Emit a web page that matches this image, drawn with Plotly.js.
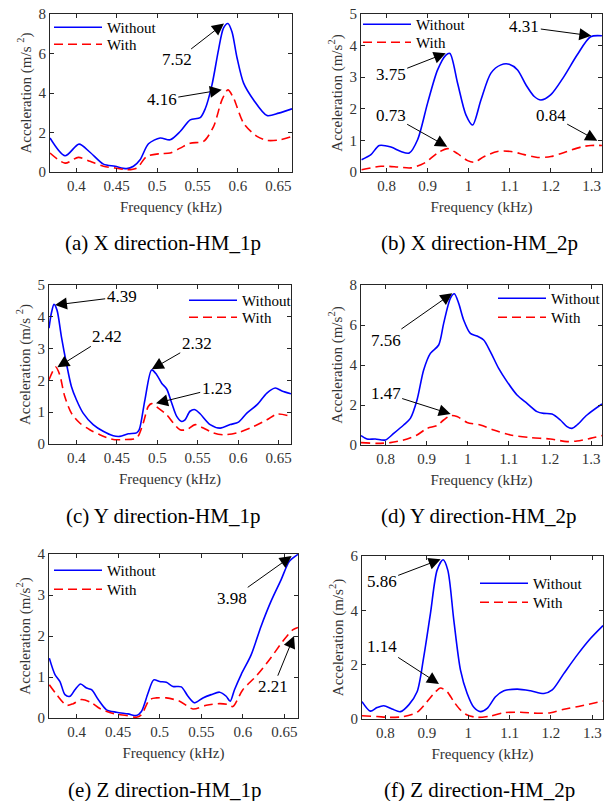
<!DOCTYPE html>
<html>
<head>
<meta charset="utf-8">
<script src="https://cdn.plot.ly/plotly-3.0.1.min.js"></script>
<style>
html,body{margin:0;padding:0;background:#fff}
#chart{width:608px;height:801px}
</style>
</head>
<body>
<div id="chart"></div>
<script>
// ---------------- data ----------------
const seriesNames = ['Without', 'With'];
const captions = ['(a) X direction-HM_1p', '(b) X direction-HM_2p', '(c) Y direction-HM_1p',
                  '(d) Y direction-HM_2p', '(e) Z direction-HM_1p', '(f) Z direction-HM_2p'];
const xTitle = 'Frequency (kHz)';
const yTitleSpaced = 'Acceleration (m/s <sup>2</sup>)';
const yTitle = 'Acceleration (m/s<sup>2</sup>)';
const xTicks1p = [0.4, 0.45, 0.5, 0.55, 0.6, 0.65];
const xTickText1p = ['0.4', '0.45', '0.5', '0.55', '0.6', '0.65'];
const xTicks2p = [0.8, 0.9, 1.0, 1.1, 1.2, 1.3];
const xTickText2p = ['0.8', '0.9', '1', '1.1', '1.2', '1.3'];

// (a) X direction HM_1p
const aFreqWithout = [0.3674,0.386,0.4033,0.4169,0.4335,0.4479,0.4624,0.4707,0.4789,0.4893,0.5037,0.5161,0.5285,0.5409,0.5533,0.5595,0.5678,0.576,0.5822,0.5876,0.5926,0.5988,0.607,0.6194,0.636,0.6504,0.6669];
const aWithout = [1.72,0.82,1.41,1.0,0.4,0.29,0.17,0.29,0.62,1.43,1.72,1.63,2.05,2.64,2.75,3.2,4.4,6.2,7.3,7.52,7.1,5.8,4.5,3.65,2.86,2.98,3.2];
const aFreqWith = [0.3674,0.386,0.4025,0.4169,0.4335,0.4479,0.4624,0.4748,0.4872,0.5037,0.5161,0.5285,0.5409,0.5574,0.5698,0.5802,0.5876,0.5946,0.607,0.6236,0.636,0.6525,0.6669];
const aWith = [0.96,0.45,0.74,0.54,0.29,0.2,0.12,0.2,0.79,0.93,0.96,1.21,1.46,1.55,2.3,3.65,4.16,3.74,2.47,1.8,1.6,1.63,1.8];
const aPeakText = ['7.52', '4.16'];
const aPeakFreq = [0.5827, 0.58];
const aPeakAcc = [7.52, 4.16];

// (b) X direction HM_2p
const bFreqWithout = [0.739,0.7618,0.7821,0.8106,0.835,0.8553,0.8756,0.9,0.9244,0.9447,0.9545,0.9732,0.9935,1.0098,1.0301,1.0545,1.0789,1.0992,1.1195,1.1398,1.1602,1.1764,1.2,1.2325,1.265,1.2976,1.3252];
const bWithout = [0.39,0.55,0.84,0.79,0.65,0.6,1.02,2.18,3.23,3.7,3.75,2.81,1.81,1.49,2.28,3.13,3.39,3.41,3.23,2.76,2.39,2.28,2.44,3.02,3.71,4.28,4.31];
const bFreqWith = [0.739,0.7862,0.8268,0.8593,0.8919,0.9244,0.9488,0.9732,0.9976,1.0138,1.0382,1.0707,1.1033,1.1358,1.1683,1.2008,1.2333,1.274,1.2984,1.3252];
const bWith = [0.07,0.18,0.16,0.13,0.28,0.6,0.74,0.58,0.36,0.31,0.49,0.65,0.65,0.55,0.46,0.49,0.62,0.79,0.84,0.84];
const bPeakText = ['4.31', '3.75', '0.73', '0.84'];
const bPeakFreq = [1.2993, 0.9442, 0.948, 1.3139];
const bPeakAcc = [4.31, 3.76, 0.8, 0.99];

// (c) Y direction HM_1p
const cFreqWithout = [0.3661,0.369,0.3723,0.376,0.3814,0.3876,0.3938,0.4,0.4083,0.4207,0.4331,0.4455,0.4537,0.464,0.4744,0.4777,0.4847,0.493,0.4992,0.5054,0.5116,0.5178,0.524,0.5302,0.5343,0.5405,0.5467,0.5529,0.5653,0.5777,0.5901,0.6004,0.6107,0.6231,0.6355,0.6459,0.6541,0.6653];
const cWithout = [3.64,4.11,4.39,4.21,3.38,2.54,1.81,1.39,0.97,0.61,0.4,0.26,0.24,0.32,0.35,0.45,1.39,2.33,2.18,1.91,1.73,1.29,0.87,0.71,0.76,1.03,1.08,0.95,0.61,0.5,0.61,0.69,0.97,1.23,1.6,1.76,1.67,1.58];
const cFreqWith = [0.3661,0.3744,0.3793,0.3855,0.3938,0.4041,0.4165,0.4289,0.4455,0.4579,0.4744,0.4826,0.4888,0.493,0.5012,0.5116,0.5198,0.5281,0.5364,0.5467,0.557,0.5694,0.5818,0.5983,0.6149,0.6355,0.6479,0.6653];
const cWith = [2.02,2.42,2.18,1.5,0.97,0.66,0.45,0.29,0.14,0.14,0.19,0.66,1.18,1.27,1.13,0.92,0.66,0.45,0.45,0.61,0.5,0.35,0.29,0.35,0.5,0.76,0.94,0.87];
const cPeakText = ['4.39', '2.42', '2.32', '1.23'];
const cPeakFreq = [0.3735, 0.3764, 0.4931, 0.4984];
const cPeakAcc = [4.37, 2.41, 2.35, 1.28];

// (d) Y direction HM_2p
const dFreqWithout = [0.7399,0.7545,0.7748,0.7992,0.8195,0.8438,0.8601,0.8763,0.8925,0.9088,0.9291,0.9412,0.9575,0.9672,0.9778,0.9899,1.0062,1.0224,1.0386,1.0549,1.0752,1.0955,1.1198,1.1442,1.1685,1.1847,1.205,1.2253,1.2416,1.2537,1.2659,1.2903,1.3268];
const dWithout = [0.47,0.3,0.3,0.25,0.58,1.0,1.33,2.25,3.75,4.58,5.0,6.08,7.33,7.56,7.08,6.25,5.58,5.45,5.25,4.67,3.83,3.17,2.5,2.08,1.67,1.58,1.55,1.25,0.92,0.83,1.0,1.5,2.05];
const dFreqWith = [0.7399,0.7789,0.8114,0.8438,0.8763,0.9006,0.925,0.9412,0.9575,0.9737,0.9981,1.0305,1.063,1.1036,1.1523,1.201,1.2416,1.2659,1.2984,1.3268];
const dWith = [0.12,0.08,0.12,0.25,0.5,0.83,0.97,1.25,1.47,1.42,1.13,1.0,0.75,0.5,0.37,0.3,0.17,0.2,0.33,0.47];
const dPeakText = ['7.56', '1.47'];
const dPeakFreq = [0.9622, 0.9583];
const dPeakAcc = [7.585, 1.55];

// (e) Z direction HM_1p
const eFreqWithout = [0.3672,0.374,0.38,0.386,0.392,0.398,0.4048,0.412,0.418,0.426,0.436,0.448,0.462,0.472,0.478,0.486,0.4928,0.5,0.508,0.516,0.526,0.534,0.542,0.552,0.562,0.572,0.58,0.5848,0.59,0.598,0.61,0.622,0.634,0.646,0.656,0.6664];
const eWithout = [1.46,1.06,0.89,0.57,0.53,0.69,0.83,0.73,0.69,0.45,0.2,0.14,0.1,0.06,0.16,0.61,0.93,0.89,0.87,0.77,0.76,0.53,0.37,0.49,0.57,0.63,0.53,0.41,0.69,1.06,1.54,2.24,2.85,3.37,3.82,3.99];
const eFreqWith = [0.3672,0.376,0.388,0.396,0.406,0.418,0.428,0.444,0.46,0.472,0.478,0.488,0.496,0.508,0.524,0.54,0.556,0.572,0.582,0.588,0.6,0.616,0.632,0.648,0.66,0.6664];
const eWith = [0.81,0.57,0.31,0.35,0.45,0.37,0.23,0.11,0.06,0.02,0.08,0.45,0.49,0.49,0.41,0.22,0.31,0.35,0.33,0.28,0.69,1.02,1.42,1.87,2.15,2.21];
const ePeakText = ['3.98', '2.21'];
const ePeakFreq = [0.6588, 0.6616];
const ePeakAcc = [3.95, 2.0];

// (f) Z direction HM_2p
const fFreqWithout = [0.7435,0.7637,0.7798,0.796,0.8161,0.8363,0.8565,0.8766,0.8927,0.9089,0.925,0.9395,0.9508,0.9653,0.9815,0.9976,1.0137,1.0298,1.046,1.0661,1.0863,1.1185,1.1508,1.1831,1.2032,1.2315,1.2637,1.296,1.3258];
const fWithout = [0.64,0.29,0.42,0.49,0.37,0.27,0.52,1.0,2.29,3.89,5.48,5.86,5.48,3.64,1.8,0.94,0.43,0.27,0.39,0.82,1.04,1.1,1.04,0.94,1.07,1.68,2.36,2.97,3.44];
const fFreqWith = [0.7435,0.7798,0.8121,0.8444,0.8766,0.9008,0.921,0.9331,0.9492,0.9653,0.9815,0.9976,1.0218,1.054,1.0863,1.1266,1.1669,1.1992,1.2315,1.2718,1.3258];
const fWith = [0.12,0.09,0.06,0.09,0.25,0.64,1.0,1.14,1.0,0.64,0.33,0.15,0.06,0.11,0.23,0.25,0.21,0.23,0.36,0.48,0.66];
const fPeakText = ['5.86', '1.14'];
const fPeakFreq = [0.9336, 0.9295];
const fPeakAcc = [5.88, 1.29];

// ---------------- layout helpers ----------------
const W = 608, H = 801;
const px = v => v / W;
const py = v => 1 - v / H;
const SERIF = 'Liberation Serif';

const panels = [
  {fw: aFreqWithout, w: aWithout, fwi: aFreqWith, wi: aWith, pt: aPeakText, pf: aPeakFreq, pa: aPeakAcc,
   off: [[-47, 36.5], [-60, 10]],
   xd: [50, 292], yd: [14, 172], xr: [0.3674, 0.6669], yr: [0, 8], ydt: 2, two: false, yt: yTitleSpaced,
   leg: [55, 27, 44], cap: [162.5, 243]},
  {fw: bFreqWithout, w: bWithout, fwi: bFreqWith, wi: bWith, pt: bPeakText, pf: bPeakFreq, pa: bPeakAcc,
   off: [[-67, -9], [-55, 21.5], [-56.6, -31.7], [-46.6, -25.7]],
   xd: [361, 602], yd: [14, 172], xr: [0.7376, 1.3254], yr: [0, 5], ydt: 1, two: true, yt: yTitle,
   leg: [364, 24, 42], cap: [479, 243]},
  {fw: cFreqWithout, w: cWithout, fwi: cFreqWith, wi: cWith, pt: cPeakText, pf: cPeakFreq, pa: cPeakAcc,
   off: [[66.7, -8.3], [50, -31.3], [45, -26], [60.7, -15]],
   xd: [49, 291], yd: [285, 444], xr: [0.3661, 0.6653], yr: [0, 5], ydt: 1, two: false, yt: yTitleSpaced,
   leg: [190, 300, 317], cap: [162.5, 516]},
  {fw: dFreqWithout, w: dWithout, fwi: dFreqWith, wi: dWith, pt: dPeakText, pf: dPeakFreq, pa: dPeakAcc,
   off: [[-66.6, 46.7], [-65, -20.7]],
   xd: [361, 602], yd: [285, 445], xr: [0.7399, 1.3268], yr: [0, 8], ydt: 2, two: true, yt: yTitle,
   leg: [499, 298, 317], cap: [479, 516]},
  {fw: eFreqWithout, w: eWithout, fwi: eFreqWith, wi: eWith, pt: ePeakText, pf: ePeakFreq, pa: ePeakAcc,
   off: [[-59.4, 42.3], [-20.7, 50.7]],
   xd: [49, 298], yd: [554, 718], xr: [0.3668, 0.6664], yr: [0, 4], ydt: 1, two: false, yt: yTitle,
   leg: [55, 570, 589], cap: [165, 790]},
  {fw: fFreqWithout, w: fWithout, fwi: fFreqWith, wi: fWith, pt: fPeakText, pf: fPeakFreq, pa: fPeakAcc,
   off: [[-59, 22.4], [-57.3, -37.3]],
   xd: [362, 603], yd: [556, 719], xr: [0.7435, 1.3258], yr: [0, 6], ydt: 2, two: true, yt: yTitle,
   leg: [481, 583, 602], cap: [479, 790]}
];

const traces = [];
const layout = {
  width: W, height: H,
  margin: {l: 0, r: 0, t: 0, b: 0},
  paper_bgcolor: '#fff', plot_bgcolor: '#fff',
  showlegend: true,
  annotations: [],
  font: {family: SERIF, color: '#000'}
};
const legendBox = (xLine, yCenter) => ({
  x: px(xLine - 6), y: py(yCenter - 16), xanchor: 'left', yanchor: 'top',
  bgcolor: 'rgba(0,0,0,0)', borderwidth: 0, itemwidth: 48,
  font: {family: SERIF, size: 15, color: '#000'}
});

panels.forEach((p, i) => {
  const n = i + 1;
  const sfx = n === 1 ? '' : String(n);
  const xa = 'x' + sfx, ya = 'y' + sfx;
  const legA = 'legend' + (i === 0 ? '' : String(2 * i + 1));
  const legB = 'legend' + String(2 * i + 2);

  traces.push({
    x: p.fw, y: p.w, xaxis: xa, yaxis: ya, type: 'scatter', mode: 'lines',
    name: seriesNames[0], legend: legA,
    line: {color: '#0000ff', width: 1.6, shape: 'spline', smoothing: 0.8},
    hoverinfo: 'skip'
  });
  traces.push({
    x: p.fwi, y: p.wi, xaxis: xa, yaxis: ya, type: 'scatter', mode: 'lines',
    name: seriesNames[1], legend: legB,
    line: {color: '#ff0000', width: 1.6, dash: '9px,5px', shape: 'spline', smoothing: 0.8},
    hoverinfo: 'skip'
  });

  const axCommon = () => ({
    showline: true, linecolor: '#262626', linewidth: 1, mirror: 'ticks',
    ticks: 'inside', ticklen: 4, tickwidth: 1, tickcolor: '#262626',
    showgrid: false, zeroline: false, fixedrange: true,
    tickfont: {family: SERIF, size: 15, color: '#333'}
  });
  layout['xaxis' + sfx] = Object.assign(axCommon(), {
    domain: [px(p.xd[0]), px(p.xd[1])], anchor: ya, range: p.xr,
    tickmode: 'array', tickvals: p.two ? xTicks2p : xTicks1p, ticktext: p.two ? xTickText2p : xTickText1p,
    title: {text: xTitle, font: {family: SERIF, size: 15, color: '#333'}, standoff: 8}
  });
  layout['yaxis' + sfx] = Object.assign(axCommon(), {
    domain: [py(p.yd[1]), py(p.yd[0])], anchor: xa, range: p.yr,
    tick0: 0, dtick: p.ydt,
    title: {text: p.yt, font: {family: SERIF, size: 15, color: '#333'}, standoff: 3}
  });
  layout[legA] = legendBox(p.leg[0], p.leg[1]);
  layout[legB] = legendBox(p.leg[0], p.leg[2]);

  p.pt.forEach((t, k) => {
    layout.annotations.push({
      xref: xa, yref: ya, x: p.pf[k], y: p.pa[k], text: t,
      showarrow: true, ax: p.off[k][0], ay: p.off[k][1],
      arrowhead: 2, arrowsize: 2.4, arrowwidth: 1, arrowcolor: '#000', standoff: 0,
      font: {family: SERIF, size: 17, color: '#000'}
    });
  });

  layout.annotations.push({
    xref: 'paper', yref: 'paper', x: px(p.cap[0]), y: py(p.cap[1]),
    xanchor: 'center', yanchor: 'middle', showarrow: false, text: captions[i],
    font: {family: SERIF, size: 21, color: '#000'}
  });
});

Plotly.newPlot('chart', traces, layout, {displayModeBar: false, staticPlot: true});
</script>
</body>
</html>
